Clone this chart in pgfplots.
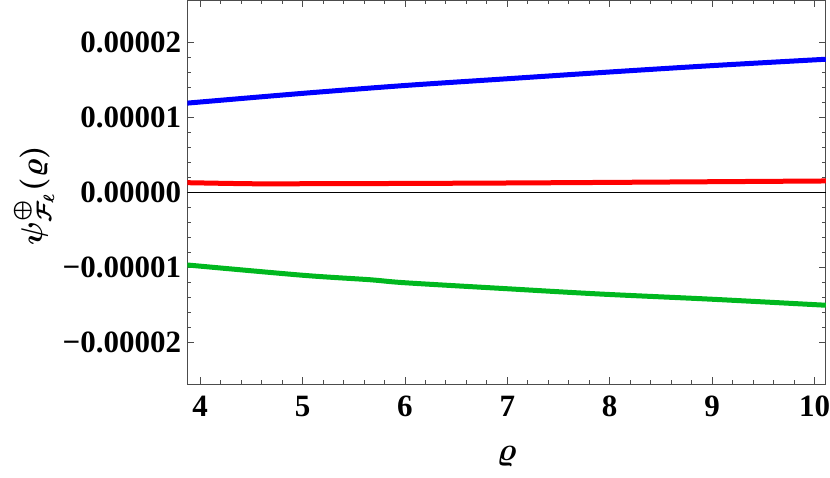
\documentclass[border=0pt]{standalone}
\usepackage{pgfplots}
\pgfplotsset{compat=1.18}
\usepackage{bm}
\usepackage{fontspec}
\setmainfont{Liberation Serif}

\definecolor{mblue}{rgb}{0,0,1}
\definecolor{mred}{rgb}{1,0,0}
\definecolor{mgreen}{rgb}{0,0.72,0.12}
\definecolor{frame}{gray}{0.3}

\begin{document}
\begin{tikzpicture}
\begin{axis}[
    name=ax, at={(0,0)}, anchor=south west,
    scale only axis, width=638.5pt, height=384pt,
    xmin=3.875, xmax=10.11, ymin=-2.56e-5, ymax=2.56e-5,
    axis line style={frame, line width=0.8pt},
    xtick={4,5,6,7,8,9,10},
    minor x tick num=4,
    ytick={-2e-5,-1e-5,0,1e-5,2e-5},
    yticklabels={−0.00002,−0.00001,0.00000,0.00001,0.00002},
    minor y tick num=4,
    scaled y ticks=false,
    tick align=inside,
    major tick length=7pt, minor tick length=4pt,
    every tick/.style={frame, line width=0.8pt},
    tick label style={font=\fontsize{31}{34}\selectfont\bfseries},
    /pgf/number format/assume math mode=true,
    xticklabel style={anchor=base, yshift=-33pt, inner sep=0pt},
    yticklabel style={anchor=east, xshift=-6pt, inner sep=0pt},
    xlabel={$\bm{\varrho}$},
    xlabel style={font=\normalsize, scale=3.2, at={(axis description cs:0.5,-0.19)}, anchor=center},
    ylabel={$\bm{\psi^{\oplus}_{\mathcal{F}_\ell}(\varrho)}$},
    ylabel style={font=\normalsize, scale=3, at={(axis description cs:-0.24,0.49)}, anchor=center},
    clip=true,
]
\addplot[black, line width=0.9pt] coordinates {(3.875,0) (10.11,0)};
\addplot[mblue, line width=5pt, smooth] coordinates {
    (3.875,1.185e-5) (5,1.315e-5) (6,1.42e-5) (7,1.51e-5)
    (8,1.60e-5) (9,1.685e-5) (10.11,1.77e-5)
};
\addplot[mred, line width=5pt, smooth] coordinates {
    (3.875,0.124e-5) (4.5,0.110e-5) (5,0.110e-5) (6,0.114e-5)
    (7,0.12e-5) (8,0.128e-5) (9,0.137e-5) (10.11,0.147e-5)
};
\addplot[mgreen, line width=5pt, smooth] coordinates {
    (3.875,-0.973e-5) (5,-1.11e-5) (5.66,-1.17e-5) (6,-1.21e-5)
    (7,-1.29e-5) (7.9,-1.36e-5) (9,-1.43e-5) (10.11,-1.51e-5)
};
\end{axis}
\pgfresetboundingbox
\path[use as bounding box] (-187.3pt,-94pt) rectangle (642.7pt,384pt);
\end{tikzpicture}
\end{document}
